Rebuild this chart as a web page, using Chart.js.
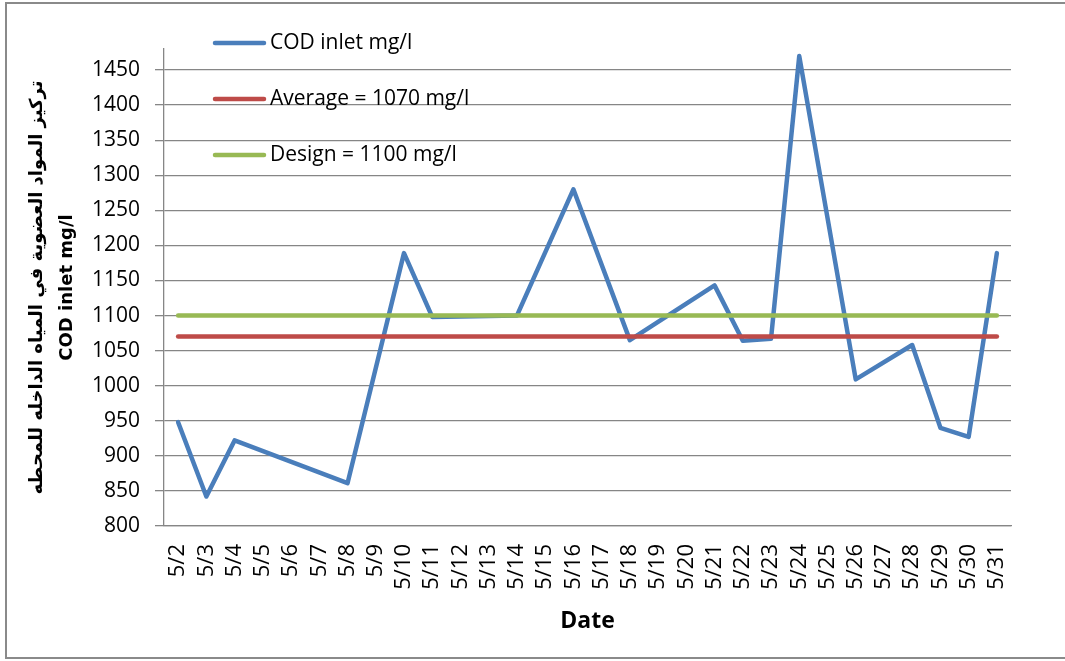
<!DOCTYPE html>
<html>
<head>
<meta charset="utf-8">
<script src="https://cdn.jsdelivr.net/npm/chart.js@4/dist/chart.umd.min.js"></script>
<style>
    html, body { margin: 0; padding: 0; background: #fff; overflow: hidden; }
    canvas { display: block; }
</style>
</head>
<body>
<canvas id="codChart" width="1065" height="661"></canvas>
<script>
// Daily COD readings at the plant inlet, May
var dates = ["5/2", "5/3", "5/4", "5/5", "5/6", "5/7", "5/8", "5/9", "5/10", "5/11",
    "5/12", "5/13", "5/14", "5/15", "5/16", "5/17", "5/18", "5/19", "5/20", "5/21",
    "5/22", "5/23", "5/24", "5/25", "5/26", "5/27", "5/28", "5/29", "5/30", "5/31"];

var codInlet = [948, 842, 922, null, null, null, 861, null, 1189, 1098,
    null, null, 1100, null, 1280, null, 1065, null, null, 1143,
    1064, 1067, 1470, null, 1009, null, 1058, 940, 927, 1189];

var averageLine = [1070, 1070, 1070, 1070, 1070, 1070, 1070, 1070, 1070, 1070,
    1070, 1070, 1070, 1070, 1070, 1070, 1070, 1070, 1070, 1070,
    1070, 1070, 1070, 1070, 1070, 1070, 1070, 1070, 1070, 1070];

var designLine = [1100, 1100, 1100, 1100, 1100, 1100, 1100, 1100, 1100, 1100,
    1100, 1100, 1100, 1100, 1100, 1100, 1100, 1100, 1100, 1100,
    1100, 1100, 1100, 1100, 1100, 1100, 1100, 1100, 1100, 1100];

var yTicks = [800, 850, 900, 950, 1000, 1050, 1100, 1150, 1200, 1250, 1300, 1350, 1400, 1450];

var seriesNames = ["COD inlet mg/l", "Average = 1070 mg/l", "Design = 1100 mg/l"];
var yTitle = ["تركيز المواد العضوية في المياه الداخله للمحطه", "COD inlet mg/l"];

var FONT = "'Open Sans', 'DejaVu Sans', sans-serif";
var GRID = "#868686";

// outer frame of the chart object
var framePlugin = {
    id: "frame",
    beforeDraw: function (chart) {
        var ctx = chart.ctx;
        ctx.save();
        ctx.fillStyle = "#fff";
        ctx.fillRect(0, 0, chart.width, chart.height);
        ctx.strokeStyle = "#8a8a8a";
        ctx.lineWidth = 2;
        ctx.beginPath();
        ctx.moveTo(chart.width + 5, 3);
        ctx.lineTo(6, 3);
        ctx.lineTo(6, 658);
        ctx.lineTo(chart.width + 5, 658);
        ctx.stroke();
        ctx.restore();
    }
};

// legend sits inside the plot, top-left, one entry per row
var insideLegend = {
    id: "insideLegend",
    afterDatasetsDraw: function (chart) {
        var ctx = chart.ctx;
        ctx.save();
        chart.data.datasets.forEach(function (ds, i) {
            var y = 43 + i * 56;
            ctx.strokeStyle = ds.borderColor;
            ctx.lineWidth = 4.5;
            ctx.lineCap = "round";
            ctx.beginPath();
            ctx.moveTo(215, y);
            ctx.lineTo(264, y);
            ctx.stroke();
            ctx.fillStyle = "#000";
            ctx.font = "21px " + FONT;
            ctx.textBaseline = "middle";
            ctx.textAlign = "left";
            ctx.fillText(ds.label, 270, y);
        });
        ctx.restore();
    }
};

new Chart(document.getElementById("codChart"), {
    type: "line",
    data: {
        labels: dates,
        datasets: [
            {
                label: seriesNames[0],
                data: codInlet,
                borderColor: "#4a7ebb",
                borderWidth: 4.5,
                spanGaps: true,
                pointRadius: 0,
                borderJoinStyle: "round",
                borderCapStyle: "round",
                order: 3
            },
            {
                label: seriesNames[1],
                data: averageLine,
                borderColor: "#be4b48",
                borderWidth: 4.5,
                pointRadius: 0,
                borderCapStyle: "round",
                order: 2
            },
            {
                label: seriesNames[2],
                data: designLine,
                borderColor: "#98b954",
                borderWidth: 4.5,
                pointRadius: 0,
                borderCapStyle: "round",
                order: 1
            }
        ]
    },
    options: {
        responsive: false,
        animation: false,
        devicePixelRatio: 1,
        layout: { padding: { left: 0, top: 49, right: 54, bottom: 0 } },
        plugins: {
            legend: { display: false },
            tooltip: { enabled: false }
        },
        scales: {
            x: {
                offset: true,
                grid: { drawOnChartArea: false, drawTicks: false },
                border: { color: GRID, width: 1.3 },
                ticks: {
                    autoSkip: false,
                    maxRotation: 90,
                    minRotation: 90,
                    padding: 18,
                    color: "#000",
                    font: { family: FONT, size: 22 }
                },
                title: {
                    display: true,
                    text: "Date",
                    color: "#000",
                    padding: { top: 0, bottom: 26 },
                    font: { family: FONT, size: 23, weight: "bold" }
                },
                afterFit: function (scale) { scale.height = 135; }
            },
            y: {
                min: 800,
                max: 1480,
                grid: { color: GRID, lineWidth: 1.3, tickLength: 9 },
                border: { color: GRID, width: 1.3 },
                ticks: {
                    padding: 15,
                    color: "#000",
                    font: { family: FONT, size: 21 },
                    callback: function (value) { return String(value); }
                },
                title: {
                    display: true,
                    text: yTitle,
                    color: "#000",
                    padding: { top: 22, bottom: 0 },
                    font: { family: "'DejaVu Sans', sans-serif", size: 18, weight: "bold", lineHeight: 1.67 }
                },
                afterBuildTicks: function (scale) {
                    scale.ticks = yTicks.map(function (v) { return { value: v }; });
                },
                afterFit: function (scale) { scale.width = 164; }
            }
        }
    },
    plugins: [framePlugin, insideLegend]
});
</script>
</body>
</html>
